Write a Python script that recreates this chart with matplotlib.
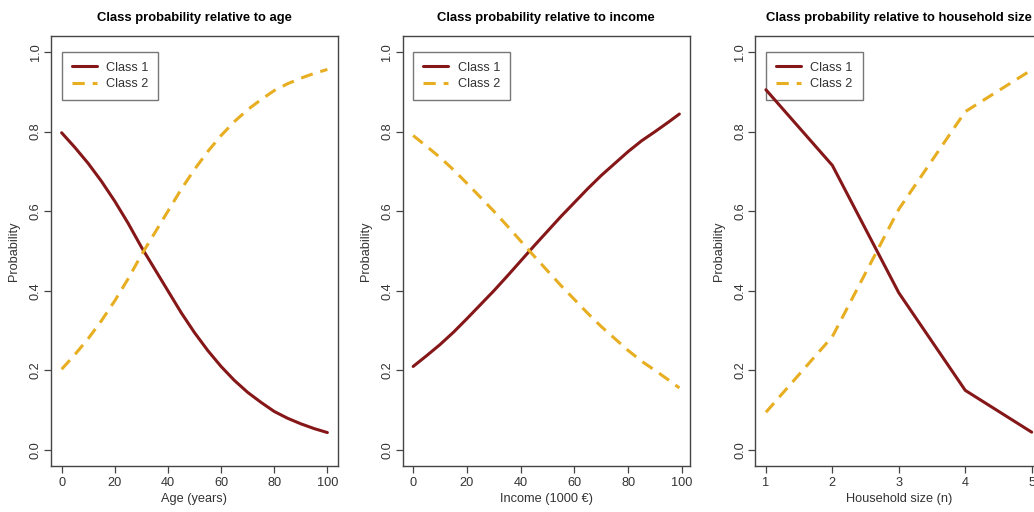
import matplotlib
matplotlib.use("Agg")
import matplotlib.pyplot as plt

plt.rcParams['font.family'] = ['Liberation Sans', 'DejaVu Sans']

# ---- data ----
age = [0, 5, 10, 15, 20, 25, 30, 35, 40, 45, 50, 55, 60, 65, 70, 75, 80, 85, 90, 95, 100]
age_c1 = [0.797, 0.76, 0.72, 0.675, 0.625, 0.57, 0.51, 0.455, 0.40, 0.345, 0.295,
          0.25, 0.21, 0.175, 0.145, 0.12, 0.097, 0.08, 0.066, 0.054, 0.044]
age_c2 = [0.203, 0.24, 0.28, 0.325, 0.375, 0.43, 0.49, 0.545, 0.60, 0.655, 0.705,
          0.75, 0.79, 0.825, 0.855, 0.88, 0.903, 0.92, 0.934, 0.946, 0.956]

income = [0, 5, 10, 15, 20, 25, 30, 35, 40, 45, 50, 55, 60, 65, 70, 75, 80, 85, 90, 95, 99]
inc_c1 = [0.21, 0.237, 0.265, 0.296, 0.33, 0.365, 0.40, 0.437, 0.475, 0.513, 0.55,
          0.587, 0.622, 0.657, 0.69, 0.72, 0.75, 0.777, 0.80, 0.824, 0.844]
inc_c2 = [0.79, 0.763, 0.735, 0.704, 0.67, 0.635, 0.60, 0.563, 0.525, 0.487, 0.45,
          0.413, 0.378, 0.343, 0.31, 0.28, 0.25, 0.223, 0.20, 0.176, 0.156]

hh = [1, 2, 3, 4, 5]
hh_c1 = [0.905, 0.715, 0.395, 0.15, 0.045]
hh_c2 = [0.095, 0.285, 0.605, 0.85, 0.955]

titles = ["Class probability relative to age",
          "Class probability relative to income",
          "Class probability relative to household size"]
xlabels = ["Age (years)", "Income (1000 \u20ac)", "Household size (n)"]
legend_labels = ["Class 1", "Class 2"]
yticks = [0.0, 0.2, 0.4, 0.6, 0.8, 1.0]
xticks_list = [[0, 20, 40, 60, 80, 100], [0, 20, 40, 60, 80, 100], [1, 2, 3, 4, 5]]

C1 = "#861719"
C2 = "#E8AE22"
AXC = "#444444"
TXC = "#333333"

W, H = 1034, 512
fig = plt.figure(figsize=(W / 100, H / 100), dpi=100)

panels = [(age, age_c1, age_c2), (income, inc_c1, inc_c2), (hh, hh_c1, hh_c2)]
lefts = [51, 402.5, 755.3]
widths = [287, 287.5, 287]
top_px, bot_px = 36, 466

def ext(lo, hi):
    d = (hi - lo) * 0.04
    return lo - d, hi + d

for i, (x, c1, c2) in enumerate(panels):
    ax = fig.add_axes([lefts[i] / W, (H - bot_px) / H, widths[i] / W, (bot_px - top_px) / H])
    ax.plot(x, c1, color=C1, lw=2.2, solid_capstyle='round', label=legend_labels[0], zorder=3)
    ax.plot(x, c2, color=C2, lw=2.2, ls=(0, (4, 2.6)), dash_capstyle='butt',
            label=legend_labels[1], zorder=3)
    ax.set_xlim(*ext(min(x), max(x)))
    ax.set_ylim(-0.04, 1.04)
    ax.set_xticks(xticks_list[i])
    ax.set_yticks(yticks)
    ax.set_yticklabels([f"{v:.1f}" for v in yticks], rotation=90, va='center')
    ax.tick_params(axis='both', length=5, width=0.9, color=AXC, labelsize=9.2,
                   labelcolor=TXC)
    ax.tick_params(axis='y', pad=1.5)
    ax.tick_params(axis='x', pad=3)
    for s in ax.spines.values():
        s.set_color(AXC)
        s.set_linewidth(1.0)
    ax.set_title(titles[i], fontsize=9.4, fontweight='bold', pad=11, color='black')
    ax.set_xlabel(xlabels[i], fontsize=9.2, color=TXC, labelpad=3)
    ax.set_ylabel("Probability", fontsize=9.2, color=TXC, labelpad=7)
    leg = ax.legend(loc='upper left', bbox_to_anchor=(x[0], 1.0),
                    bbox_transform=ax.transData, borderaxespad=0,
                    fancybox=False, frameon=True, fontsize=9.2,
                    handlelength=1.95, handletextpad=0.75, borderpad=0.78,
                    labelspacing=0.32, labelcolor=TXC)
    leg.set_zorder(2)
    leg.get_frame().set_edgecolor("#555555")
    leg.get_frame().set_facecolor('none')
    leg.get_frame().set_linewidth(1.0)

fig.savefig("out.png", dpi=100)
